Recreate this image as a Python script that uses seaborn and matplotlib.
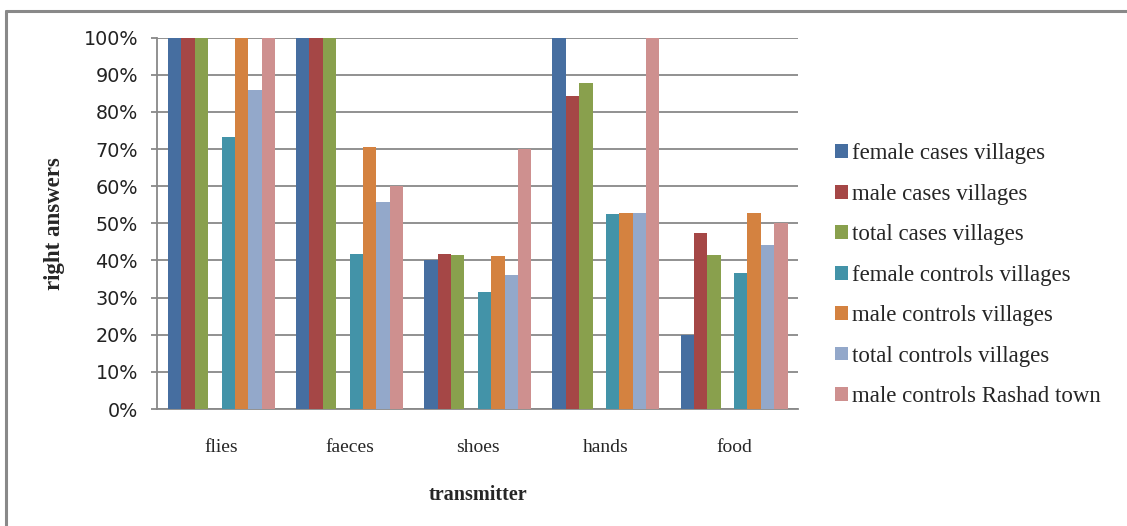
import numpy as np
import pandas as pd
import matplotlib
matplotlib.use("Agg")
import matplotlib.pyplot as plt
from matplotlib.patches import Patch
from matplotlib.lines import Line2D
from matplotlib.ticker import MultipleLocator, PercentFormatter
import seaborn as sns

# Transmitters asked about
categories = ["flies", "faeces", "shoes", "hands", "food"]

# Share of right answers (%) per group
female_cases_villages = [100, 100, 40.0, 100, 20.0]
male_cases_villages = [100, 100, 41.7, 84.3, 47.4]
total_cases_villages = [100, 100, 41.5, 87.8, 41.5]
female_controls_villages = [73.3, 41.7, 31.5, 52.5, 36.6]
male_controls_villages = [100, 70.6, 41.2, 52.8, 52.8]
total_controls_villages = [86.0, 55.7, 36.1, 52.8, 44.2]
male_controls_rashad_town = [100, 60.0, 70.0, 100, 50.0]

series_names = [
    "female cases villages",
    "male cases villages",
    "total cases villages",
    "female controls villages",
    "male controls villages",
    "total controls villages",
    "male controls Rashad town",
]
series_values = [
    female_cases_villages,
    male_cases_villages,
    total_cases_villages,
    female_controls_villages,
    male_controls_villages,
    total_controls_villages,
    male_controls_rashad_town,
]
series_colors = ["#466EA0", "#A54746", "#89A04D", "#4393A8",
                 "#D48240", "#93A8CA", "#CE908F"]

# An empty slot separates the case groups from the control groups
spacer = "_spacer"
rows = []
for name, vals in zip(series_names, series_values):
    for cat, v in zip(categories, vals):
        rows.append({"transmitter": cat, "group": name, "pct": v})
for cat in categories:
    rows.append({"transmitter": cat, "group": spacer, "pct": 0.0})
df = pd.DataFrame(rows)

hue_order = series_names[:3] + [spacer] + series_names[3:]
palette = dict(zip(series_names, series_colors))
palette[spacer] = "#FFFFFF"

sns.set_style("white")
plt.rcParams["font.family"] = ["Liberation Serif", "DejaVu Serif"]

fig = plt.figure(figsize=(11.27, 5.26), dpi=100)
ax = fig.add_axes([0.1397, 0.2224, 0.5685, 0.706])

sns.barplot(data=df, x="transmitter", y="pct", hue="group",
            order=categories, hue_order=hue_order, palette=palette,
            width=0.836, linewidth=0, errorbar=None, legend=False,
            saturation=1, ax=ax, zorder=3)

grid_col = "#888888"
ax.set_ylim(0, 100)
ax.set_xlim(-0.5, 4.5)
ax.yaxis.set_major_locator(MultipleLocator(10))
ax.yaxis.set_major_formatter(PercentFormatter(decimals=0))
ax.yaxis.grid(True, color=grid_col, linewidth=1.3, zorder=0)
ax.set_axisbelow(True)

for side in ("top", "right"):
    ax.spines[side].set_visible(False)
for side in ("left", "bottom"):
    ax.spines[side].set_color(grid_col)
    ax.spines[side].set_linewidth(1.3)

ax.tick_params(axis="y", which="major", left=True, length=4, width=1.3,
               color=grid_col, pad=10, labelsize=13.8)
ax.tick_params(axis="x", which="major", bottom=False, pad=18, labelsize=14)
for lbl in ax.get_yticklabels():
    lbl.set_fontfamily("DejaVu Sans")
    lbl.set_color("#222222")

ax.set_xlabel("transmitter", fontsize=14.5, fontweight="bold", labelpad=21)
ax.set_ylabel("right answers", fontsize=16.5, fontweight="bold", labelpad=13)

handles = [Patch(facecolor=c, edgecolor="none") for c in series_colors]
fig.legend(handles, series_names, loc="upper left",
           bbox_to_anchor=(0.733, 0.745), frameon=False, fontsize=16.5,
           handlelength=0.55, handleheight=0.55, handletextpad=0.2,
           labelspacing=0.85, borderaxespad=0)

# Chart frame lines (top and left edges)
fig.add_artist(Line2D([6 / 1127, 1.0], [1 - 11 / 526, 1 - 11 / 526],
                      transform=fig.transFigure, color="#898989", linewidth=2.2))
fig.add_artist(Line2D([6 / 1127, 6 / 1127], [0.0, 1 - 11 / 526],
                      transform=fig.transFigure, color="#898989", linewidth=2.2))

fig.savefig("out.png", dpi=100, facecolor="white")
